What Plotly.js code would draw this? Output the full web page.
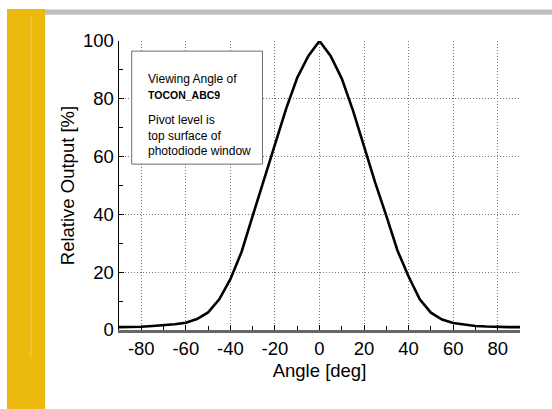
<!DOCTYPE html>
<html>
<head>
<meta charset="utf-8">
<script src="https://cdn.plot.ly/plotly-3.0.1.min.js"></script>
<style>
  html, body { margin: 0; padding: 0; background: #fff; }
  #chart { width: 552px; height: 409px; }
</style>
</head>
<body>
<div id="chart"></div>
<script>
// Data
const angles = [-90,-85,-80,-75,-70,-65,-60,-55,-50,-45,-40,-35,-30,-25,-20,-15,-10,-5,0,
                5,10,15,20,25,30,35,40,45,50,55,60,65,70,75,80,85,90];
const relOutput = [1.0,1.0,1.1,1.4,1.6,2.0,2.5,3.8,6.1,10.6,17.6,27,39.5,52,64.5,76.5,87.3,94.8,100,
                   94.8,87,76,63.5,51,39.5,27.5,18.5,10.6,6.0,3.6,2.4,1.8,1.4,1.2,1.0,1.0,1.0];
const xTicks = [-80,-60,-40,-20,0,20,40,60,80];
const yTicks = [0,20,40,60,80,100];
const noteTitle = "Viewing Angle of";
const noteDevice = "TOCON_ABC9";
const noteLines = ["Pivot level is", "top surface of", "photodiode window"];

const FONT = "Liberation Sans, Arial, sans-serif";

const trace = {
  x: angles, y: relOutput, type: "scatter", mode: "lines",
  line: {color: "#000", width: 2.6, shape: "linear"},
  hoverinfo: "skip", showlegend: false
};

const annotations = [];
annotations.push({xref:"x", yref:"y", x:-77.9, y:86.7, xanchor:"left", yanchor:"middle",
  text: noteTitle, showarrow:false, font:{family:FONT, size:12, color:"#000"}});
annotations.push({xref:"x", yref:"y", x:-77.9, y:81.4, xanchor:"left", yanchor:"middle",
  text: "<b>" + noteDevice + "</b>", showarrow:false, font:{family:FONT, size:10.5, color:"#000"}});
const noteY = [72.5, 67.2, 61.8];
noteLines.forEach((t, i) => annotations.push({xref:"x", yref:"y", x:-77.9, y:noteY[i],
  xanchor:"left", yanchor:"middle", text:t, showarrow:false,
  font:{family:FONT, size:12, color:"#000"}}));

const shapes = [
  {type:"rect", xref:"paper", yref:"paper", x0:-0.2793, x1:-0.1845, y0:-0.28, y1:1.1107,
   fillcolor:"#ECB90F", line:{width:0}, layer:"below"},
  {type:"line", xref:"paper", yref:"paper", x0:-0.2195, x1:-0.2195, y0:-0.0969, y1:1.0869,
   line:{color:"#F2CE5A", width:1}, layer:"below"},
  {type:"rect", xref:"paper", yref:"paper", x0:-0.1845, x1:1.09, y0:1.0907, y1:1.1090,
   fillcolor:"#BFBFBF", line:{width:0}, layer:"below"},
  {type:"rect", xref:"x", yref:"y", x0:-84.3, x1:-25.6, y0:57.4, y1:96.5,
   fillcolor:"#fff", line:{color:"#707070", width:1}, layer:"above"}
];

const layout = {
  width: 552, height: 409,
  margin: {l:119, r:32, t:41, b:79, pad:0},
  paper_bgcolor: "#fff", plot_bgcolor: "#fff",
  font: {family: FONT, size: 18, color: "#000"},
  xaxis: {
    range: [-90, 90], tickvals: xTicks, ticktext: xTicks.map(String),
    ticks: "inside", ticklen: 5, tickcolor: "#000", tickwidth: 1,
    minor: {tickvals: [-90,-70,-50,-30,-10,10,30,50,70,90], ticks: "inside", ticklen: 4, tickcolor:"#000", showgrid:false},
    showgrid: true, gridcolor: "#777", griddash: "1px,2px", gridwidth: 1,
    showline: true, linecolor: "#666", linewidth: 2.5, mirror: false,
    zeroline: false, tickfont: {family: FONT, size: 18.5, color:"#000"},
    title: {text: "Angle [deg]", font: {family: FONT, size: 18.5, color:"#000"}, standoff: 7},
    fixedrange: true
  },
  yaxis: {
    range: [0, 100], tickvals: yTicks, ticktext: yTicks.map(String),
    ticks: "inside", ticklen: 5, tickcolor: "#000", tickwidth: 1,
    minor: {tickvals: [10,30,50,70,90], ticks: "inside", ticklen: 4, tickcolor:"#000", showgrid:false},
    showgrid: true, gridcolor: "#777", griddash: "1px,2px", gridwidth: 1,
    showline: true, linecolor: "#000", linewidth: 1.5, mirror: false,
    zeroline: false, tickfont: {family: FONT, size: 18.5, color:"#000"},
    title: {text: "Relative Output [%]", font: {family: FONT, size: 18.5, color:"#000"}, standoff: 3},
    fixedrange: true
  },
  shapes: shapes,
  annotations: annotations,
  showlegend: false
};

Plotly.newPlot("chart", [trace], layout, {displayModeBar: false, staticPlot: true});
</script>
</body>
</html>
